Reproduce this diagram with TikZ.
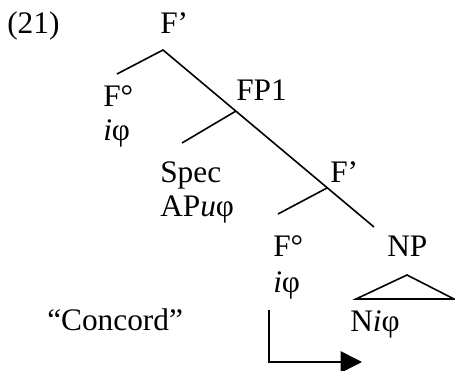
\documentclass[tikz,border=0pt]{standalone}
\usepackage{fontspec}
\setmainfont{Liberation Serif}
\usetikzlibrary{arrows.meta}
\begin{document}
\begin{tikzpicture}[x=0.75pt,y=-0.75pt,
  lbl/.style={inner sep=0pt,anchor=base west,font=\fontsize{23.5}{27}\selectfont},
  branch/.style={line width=1.2pt},
  movearrow/.style={line width=1.2pt,-{Triangle[length=16pt,width=16pt]}}]
\useasboundingbox (0,0) rectangle (455,371);
% labels
\node[lbl] (ex) at (7,34) {(21)};
\node[lbl] (fbartop) at (160,33) {F’};
\node[lbl] (f0a) at (103,107) {F°};
\node[lbl] (f0aphi) at (103,141) {\textit{i}φ};
\node[lbl] (fp1) at (236,101) {FP1};
\node[lbl] (spec) at (160,182) {Spec};
\node[lbl] (ap) at (160,217) {AP\textit{u}φ};
\node[lbl] (fbar) at (330,182) {F’};
\node[lbl] (f0b) at (273,257) {F°};
\node[lbl] (f0bphi) at (273,292) {\textit{i}φ};
\node[lbl] (np) at (387,257) {NP};
\node[lbl] (n) at (350,332) {N\textit{i}φ};
\node[lbl] (concord) at (47,330) {“Concord”};
% tree geometry
\coordinate (top) at (163,50);
\coordinate (lt) at (117,74);
\coordinate (j1) at (236,111);
\coordinate (s1) at (182,143);
\coordinate (j2) at (327,188);
\coordinate (s2) at (278,214);
\coordinate (bot) at (374,227);
\draw[branch] (lt) -- (top) -- (bot);
\draw[branch] (j1) -- (s1);
\draw[branch] (j2) -- (s2);
% NP triangle
\coordinate (ta) at (407,275);
\coordinate (tl) at (356,299);
\coordinate (tr) at (454,299);
\draw[branch,line join=miter] (tl) -- (ta) -- (tr) -- cycle;
% arrow
\coordinate (a0) at (269,310);
\coordinate (a1) at (269,362);
\coordinate (a2) at (362,362);
\draw[movearrow] (a0) -- (a1) -- (a2);
\end{tikzpicture}
\end{document}
